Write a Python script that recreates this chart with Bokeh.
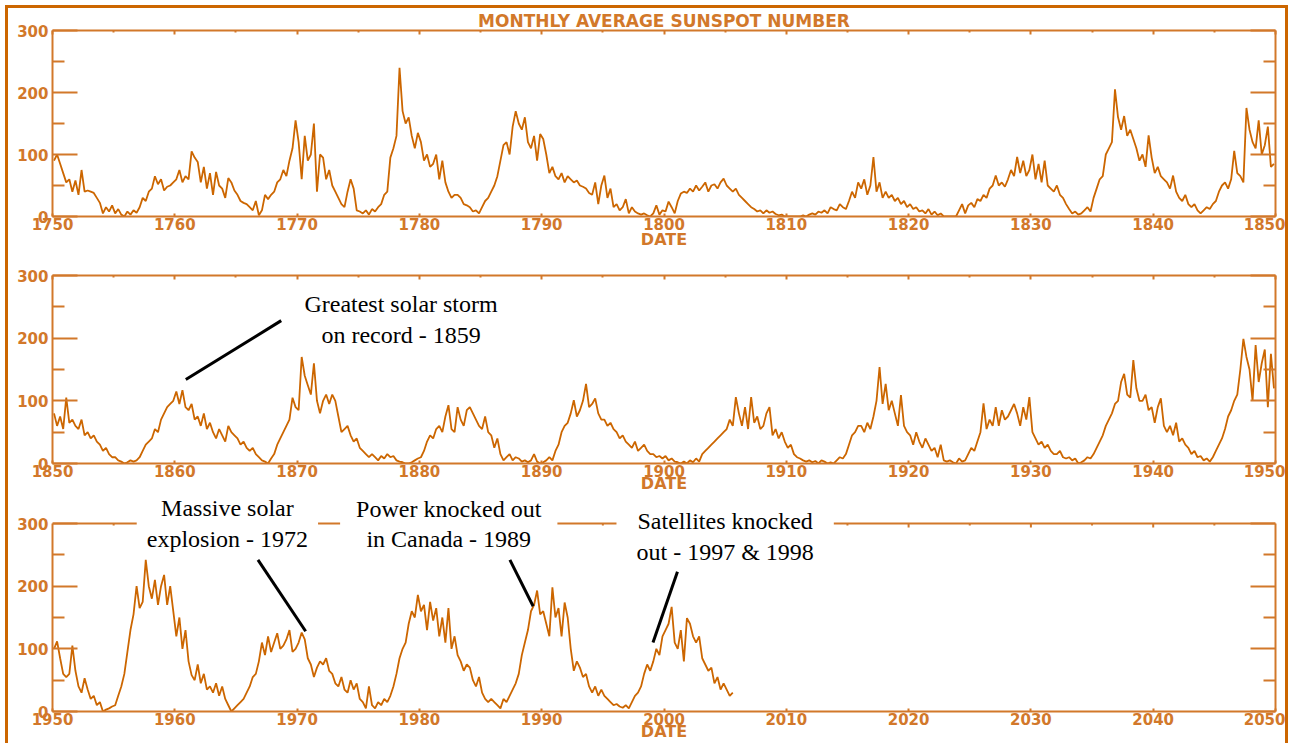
import numpy as np
from bokeh.plotting import figure
from bokeh.models import Range1d, LinearAxis, FixedTicker, Label
from bokeh.layouts import column
from bokeh.embed import file_html
from bokeh.resources import INLINE

# ---------------- data (quarterly estimates) ----------------
start_1 = 1750
ssn_1750_1849 = [
    90, 100, 85, 70,  55, 60, 40, 58,  35, 75, 40, 42,  40, 38, 30, 22,  5, 15, 8, 18,
    5, 12, 3, 0,  8, 3, 10, 6,  15, 30, 25, 40,  45, 65, 52, 60,  42, 48, 50, 55,
    60, 75, 55, 65,  60, 105, 95, 88,  55, 80, 45, 70,  35, 72, 50, 45,  30, 62, 55, 42,
    35, 25, 22, 20,  15, 10, 25, 2,  10, 35, 28, 35,  40, 55, 60, 75,  65, 90, 110, 155,
    120, 60, 130, 90,  100, 150, 40, 100,  95, 60, 75, 50,  40, 30, 20, 15,  40, 60, 45, 10,
    8, 5, 10, 3,  12, 8, 15, 20,  35, 40, 95, 110,  130, 240, 170, 150,  160, 130, 110, 135,
    120, 90, 100, 80,  85, 100, 60, 90,  55, 40, 30, 35,  35, 30, 20, 18,  15, 8, 10, 5,
    15, 25, 30, 40,  50, 65, 90, 115,  120, 100, 145, 170,  150, 140, 160, 120,  110, 130, 90, 133,
    125, 100, 70, 80,  65, 60, 70, 55,  65, 60, 55, 58,  50, 48, 45, 38,  35, 55, 20, 50,
    66, 30, 45, 15,  20, 10, 15, 28,  5, 15, 8, 5,  3, 5, 2, 0,  5, 18, 3, 10,
    8, 24, 15, 5,  25, 37, 40, 38,  45, 40, 50, 42,  48, 55, 40, 50,  52, 45, 55, 61,
    50, 45, 40, 45,  35, 30, 25, 20,  15, 12, 8, 10,  5, 10, 6, 8,  4, 2, 3, 0,
    0, 0, 0, 0,  0, 2, 0, 3,  5, 3, 8, 6,  10, 5, 15, 12,  10, 20, 15, 12,
    25, 40, 30, 55,  45, 60, 35, 50,  96, 40, 55, 30,  40, 30, 35, 25,  30, 20, 25, 15,
    20, 12, 15, 8,  10, 5, 12, 3,  8, 2, 5, 0,  0, 0, 0, 0,  10, 20, 5, 18,
    22, 15, 28, 25,  35, 30, 45, 50,  66, 50, 55, 48,  60, 75, 65, 96,  70, 90, 65, 75,
    100, 60, 85, 55,  90, 50, 45, 40,  50, 35, 30, 20,  12, 5, 8, 3,  5, 10, 15, 8,
    30, 45, 60, 65,  100, 110, 120, 205,  160, 140, 162, 130,  140, 125, 110, 90,  100, 80, 131, 95,
    70, 80, 65, 60,  55, 45, 66, 40,  30, 25, 35, 20,  15, 20, 10, 5,  10, 15, 12, 20,
    25, 40, 50, 55,  45, 60, 106, 70,  65, 55, 175, 140,  120, 110, 155, 100,  115, 145, 80, 85,
]

start_2 = 1850
ssn_1850_1949 = [
    80, 60, 75, 55,  105, 65, 70, 60,  55, 70, 45, 50,  40, 45, 35, 30,  20, 25, 15, 10,
    10, 5, 3, 0,  2, 5, 3, 5,  10, 20, 30, 35,  40, 55, 50, 70,  80, 90, 95, 100,
    115, 95, 117, 90,  85, 95, 70, 75,  60, 80, 55, 65,  50, 40, 55, 45,  35, 60, 50, 45,
    40, 30, 35, 25,  20, 25, 15, 10,  5, 3, 0, 8,  15, 30, 40, 50,  60, 70, 105, 90,
    85, 170, 140, 125,  110, 160, 100, 80,  100, 110, 95, 110,  100, 75, 50, 55,  60, 45, 35, 40,
    25, 20, 15, 10,  15, 10, 5, 12,  8, 15, 10, 12,  5, 3, 2, 0,  0, 2, 5, 8,
    10, 20, 35, 45,  40, 55, 60, 50,  75, 93, 55, 50,  90, 70, 60, 85,  90, 80, 70, 60,
    55, 75, 50, 45,  25, 40, 15, 5,  10, 15, 5, 10,  8, 3, 5, 2,  5, 15, 3, 0,
    2, 5, 10, 5,  20, 30, 50, 60,  65, 80, 101, 75,  85, 100, 127, 90,  95, 104, 80, 70,
    70, 60, 65, 55,  50, 40, 45, 35,  30, 25, 35, 20,  25, 30, 20, 15,  15, 10, 12, 8,
    12, 5, 8, 3,  2, 0, 3, 0,  5, 2, 8, 3,  15, 20, 25, 30,  35, 40, 45, 50,
    55, 70, 60, 106,  80, 60, 90, 55,  106, 65, 75, 55,  60, 80, 90, 45,  55, 40, 50, 35,
    25, 30, 15, 10,  8, 5, 3, 5,  2, 4, 0, 5,  3, 0, 2, 0,  5, 10, 8, 15,
    30, 45, 50, 60,  60, 50, 65, 55,  75, 100, 154, 95,  127, 85, 100, 80,  60, 109, 60, 50,
    45, 30, 50, 35,  25, 40, 30, 20,  25, 10, 30, 5,  3, 5, 2, 0,  8, 3, 5, 15,
    25, 20, 35, 50,  96, 55, 70, 60,  90, 60, 85, 70,  75, 85, 95, 80,  60, 90, 70, 106,
    50, 40, 30, 35,  25, 30, 20, 15,  15, 20, 10, 8,  10, 5, 8, 0,  2, 5, 10, 8,
    15, 25, 35, 45,  60, 70, 80, 95,  100, 130, 143, 110,  105, 165, 120, 100,  100, 110, 85, 90,
    65, 90, 104, 60,  50, 60, 45, 65,  35, 40, 30, 25,  15, 20, 10, 12,  5, 8, 3, 10,
    20, 30, 40, 55,  75, 85, 100, 110,  150, 199, 170, 150,  100, 189, 130, 160,  182, 90, 175, 120,
]

start_3 = 1950
ssn_1950_2005 = [
    100, 112, 85, 60,  55, 60, 105, 65,  40, 30, 53, 35,  20, 25, 10, 15,  0, 3, 5, 8,
    10, 25, 40, 60,  95, 130, 155, 200,  165, 175, 242, 200,  180, 210, 170, 200,  218, 170, 200, 160,
    120, 150, 100, 130,  80, 58, 50, 75,  45, 60, 35, 40,  30, 45, 25, 40,  20, 10, 0, 5,
    10, 15, 20, 30,  40, 55, 60, 80,  110, 90, 120, 95,  110, 125, 100, 105,  115, 130, 95, 100,
    110, 126, 115, 85,  75, 55, 70, 80,  75, 85, 65, 60,  45, 40, 55, 35,  30, 50, 35, 45,
    20, 15, 5, 40,  10, 5, 15, 10,  20, 15, 25, 40,  60, 85, 100, 110,  140, 160, 150, 186,
    160, 170, 130, 175,  145, 165, 120, 150,  110, 165, 100, 120,  90, 80, 65, 75,  70, 50, 40, 55,
    30, 20, 15, 20,  15, 10, 5, 20,  15, 25, 35, 45,  60, 90, 110, 130,  160, 170, 193, 155,
    160, 140, 120, 198,  150, 165, 120, 174,  150, 100, 65, 80,  70, 55, 60, 40,  30, 40, 25, 35,
    25, 20, 15, 10,  12, 8, 6, 10,  5, 15, 25, 30,  40, 60, 75, 65,  80, 100, 90, 120,
    130, 140, 167, 110,  100, 130, 80, 149,  140, 120, 110, 120,  85, 75, 65, 70,  45, 55, 35, 45,
    35, 25, 30,
]

y_ticks = [0, 100, 200, 300]
y_minor = [50, 150, 250]

title_text = "MONTHLY AVERAGE SUNSPOT NUMBER"
x_label = "DATE"

# ---------------- styling ----------------
LINE = "#CC6600"
AXC = "#D2782A"
W = 1277
FRAME_H = 188
Y_TOP = 300


def make_panel(start, values, height, top, bottom, label_standoff,
               y_end=Y_TOP, with_top_axis=True):
    p = figure(width=W, height=height, output_backend="svg", toolbar_location=None,
               x_range=Range1d(start, start + 100), y_range=Range1d(0, y_end),
               x_axis_location=None, y_axis_location=None,
               min_border_left=44, min_border_right=10,
               min_border_top=top, min_border_bottom=bottom)
    p.outline_line_color = None
    p.background_fill_color = "white"
    p.border_fill_color = "white"
    p.grid.visible = False

    xt = FixedTicker(ticks=[start + 10 * k for k in range(11)],
                     minor_ticks=[start + 5 + 10 * k for k in range(10)])
    yt = FixedTicker(ticks=y_ticks, minor_ticks=y_minor)

    common = dict(axis_line_color=AXC, axis_line_width=2,
                  major_tick_line_color=AXC, major_tick_line_width=2,
                  minor_tick_line_color=AXC, minor_tick_line_width=2)
    silent = dict(major_label_text_color=None, major_label_text_font_size="1px",
                  major_label_standoff=0)

    below = LinearAxis(ticker=xt, axis_label=x_label, major_tick_in=3, major_tick_out=0,
                       minor_tick_in=0, minor_tick_out=0, major_label_standoff=1,
                       axis_label_standoff=label_standoff,
                       major_label_text_font="DejaVu Sans", major_label_text_font_style="bold",
                       major_label_text_font_size="15px", major_label_text_color=AXC,
                       axis_label_text_font="DejaVu Sans", axis_label_text_font_style="bold",
                       axis_label_text_font_size="16px", axis_label_text_color=AXC, **common)
    left = LinearAxis(ticker=yt, bounds=(0, Y_TOP), major_tick_in=25, major_tick_out=0,
                      minor_tick_in=12, minor_tick_out=0, major_label_standoff=4,
                      major_label_text_font="DejaVu Sans", major_label_text_font_style="bold",
                      major_label_text_font_size="15px", major_label_text_color=AXC, **common)
    right = LinearAxis(ticker=yt, bounds=(0, Y_TOP), major_tick_in=25, major_tick_out=0,
                       minor_tick_in=12, minor_tick_out=0, **silent, **common)
    p.add_layout(below, "below")
    p.add_layout(left, "left")
    p.add_layout(right, "right")

    if with_top_axis:
        above = LinearAxis(ticker=xt, major_tick_in=4, major_tick_out=0,
                           minor_tick_in=2, minor_tick_out=0, **silent, **common)
        p.add_layout(above, "above")
    else:
        # top edge of the box lies inside an enlarged frame (room for the notes)
        upp = Y_TOP / FRAME_H  # data units per pixel
        p.segment(x0=[start], y0=[Y_TOP], x1=[start + 100], y1=[Y_TOP],
                  line_color=AXC, line_width=2)
        maj = xt.ticks[1:-1]
        mnr = xt.minor_ticks
        p.segment(x0=maj, y0=[Y_TOP] * len(maj), x1=maj, y1=[Y_TOP - 4 * upp] * len(maj),
                  line_color=AXC, line_width=2)
        p.segment(x0=mnr, y0=[Y_TOP] * len(mnr), x1=mnr, y1=[Y_TOP - 2 * upp] * len(mnr),
                  line_color=AXC, line_width=2)

    t = start + (np.arange(len(values)) + 0.5) / 4.0
    p.line(t, values, line_color=LINE, line_width=1.8)
    return p


p1 = make_panel(start_1, ssn_1750_1849, 248, 20, 40, -3)
p2 = make_panel(start_2, ssn_1850_1949, 239, 19, 32, -6)
p3_frame = 216
p3 = make_panel(start_3, ssn_1950_2005, p3_frame + 32, 0, 32, -6,
                y_end=Y_TOP * p3_frame / FRAME_H, with_top_axis=False)

p1.title.text = title_text
p1.title.align = "center"
p1.title.text_font = "DejaVu Sans"
p1.title.text_font_style = "bold"
p1.title.text_font_size = "17px"
p1.title.text_color = AXC
p1.title.standoff = 0

serif = dict(text_font="Liberation Serif", text_font_size="24px", text_color="black",
             text_align="center", text_baseline="middle", text_line_height=1.18)

p2.add_layout(Label(x=1878.5, y=230, text="Greatest solar storm\non record - 1859", **serif))
p2.segment(x0=[1860.9], y0=[134], x1=[1868.7], y1=[228], line_color="black", line_width=3)

p3.add_layout(Label(x=1964.3, y=300, text="Massive solar\nexplosion - 1972",
                    background_fill_color="white",
                    padding=dict(left=10, right=10, top=0, bottom=0), **serif))
p3.add_layout(Label(x=1982.4, y=299, text="Power knocked out\nin Canada - 1989",
                    background_fill_color="white",
                    padding=dict(left=16, right=16, top=0, bottom=0), **serif))
p3.add_layout(Label(x=2005.0, y=279, text="Satellites knocked\nout - 1997 & 1998",
                    background_fill_color="white",
                    padding=dict(left=20, right=20, top=0, bottom=0), **serif))
p3.segment(x0=[1966.8, 1987.4, 2001.1], y0=[242, 242, 223],
           x1=[1970.7, 1989.3, 1999.1], y1=[128, 168, 110],
           line_color="black", line_width=3)

layout = column(p1, p2, p3, styles={"margin-top": "5px", "margin-left": "5px",
                                    "border-top": "3px solid #CC6600",
                                    "border-left": "3px solid #CC6600",
                                    "border-right": "3px solid #CC6600"})

open("out.html", "w").write(file_html(layout, INLINE))
